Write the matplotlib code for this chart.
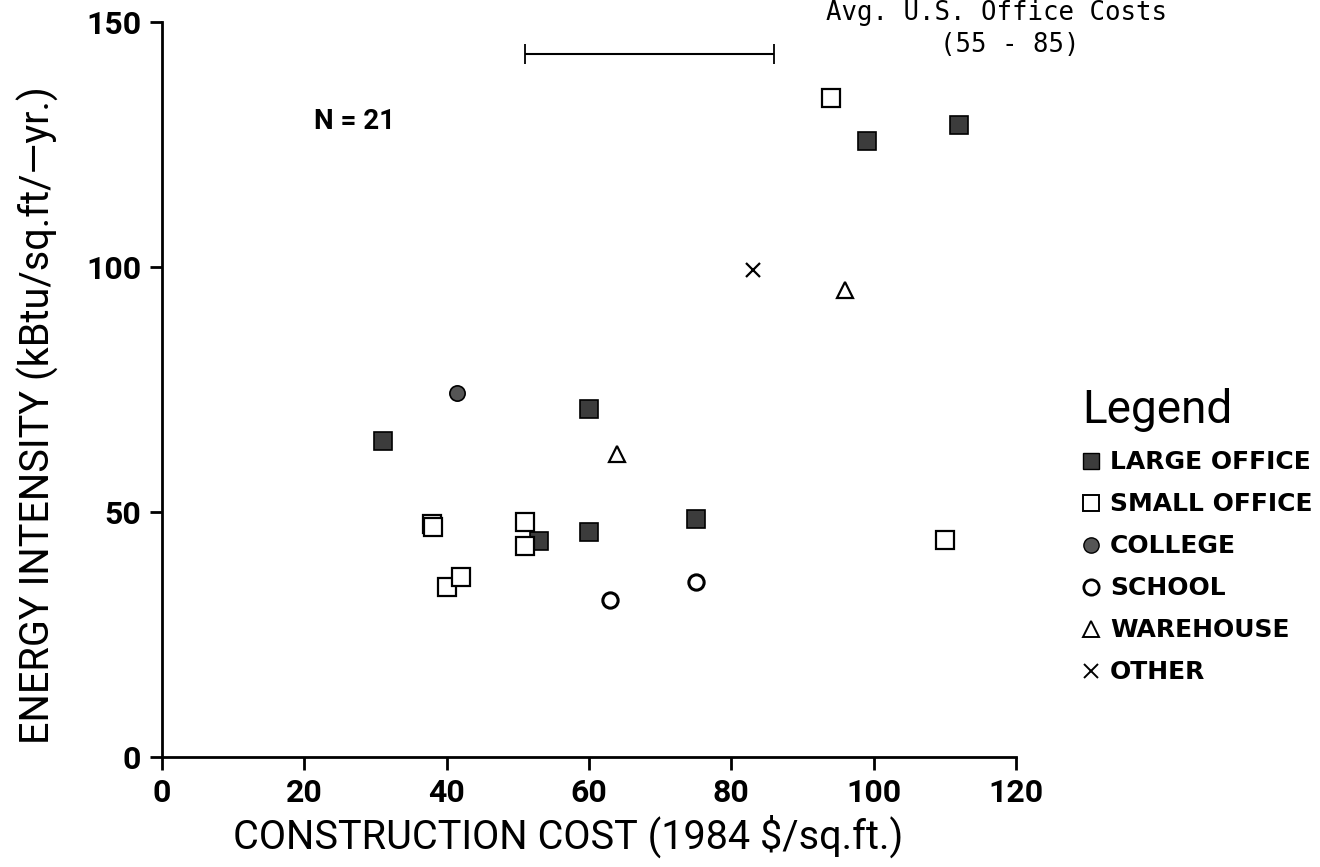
import matplotlib
matplotlib.use("Agg")
import matplotlib.pyplot as plt
from matplotlib.lines import Line2D

# values
large_x = [31, 53, 60, 60, 75, 99, 112]
large_y = [64.5, 44, 46, 71, 48.6, 125.7, 129]
small_x = [38, 38.1, 40, 42, 51, 51, 94, 110]
small_y = [47.6, 47.0, 34.7, 36.7, 48, 43, 134.5, 44.3]
college_x = [41.5]
college_y = [74.3]
school_x = [63, 75]
school_y = [32, 35.7]
warehouse_x = [64, 96]
warehouse_y = [61.8, 95.3]
other_x = [83]
other_y = [99.4]

avg_lo, avg_hi, avg_level = 51, 86, 143.5
x_ticks = [0, 20, 40, 60, 80, 100, 120]
y_ticks = [0, 50, 100, 150]

plt.rcParams['font.family'] = ['Roboto', 'DejaVu Sans']

fig = plt.figure(figsize=(13.2, 8.67), dpi=100)
ax = fig.add_axes([0.1227, 0.1269, 0.6470, 0.8477])

dark = '#3c3c3c'
ms = 12.5
ax.plot(large_x, large_y, 's', ms=ms, mfc=dark, mec='black', mew=1.2, ls='none')
ax.plot(small_x, small_y, 's', ms=ms, mfc='white', mec='black', mew=1.6, ls='none')
ax.plot(college_x, college_y, 'o', ms=11, mfc='#555555', mec='black', mew=1.2, ls='none')
ax.plot(school_x, school_y, 'o', ms=11, mfc='white', mec='black', mew=2.2, ls='none')
ax.plot(warehouse_x, warehouse_y, '^', ms=11, mfc='white', mec='black', mew=1.6, ls='none')
ax.plot(other_x, other_y, 'x', ms=10, mec='black', mew=1.6, ls='none')

# average office cost range bar
ax.errorbar((avg_lo + avg_hi) / 2, avg_level, xerr=(avg_hi - avg_lo) / 2,
            fmt='none', ecolor='black', elinewidth=1.5, capsize=7, capthick=1.3)

ax.set_xlim(0, 120)
ax.set_ylim(0, 150)
ax.set_xticks(x_ticks)
ax.set_yticks(y_ticks)
ax.spines['top'].set_visible(False)
ax.spines['right'].set_visible(False)
ax.spines['left'].set_linewidth(2)
ax.spines['bottom'].set_linewidth(2)
ax.tick_params(direction='out', length=9, width=2, labelsize=23, pad=6)
for lab in ax.get_xticklabels() + ax.get_yticklabels():
    lab.set_fontweight('bold')

# axis titles placed like the original (slightly off-centre)
fig.text(568 / 1320, 1 - 836 / 867, 'CONSTRUCTION COST (1984 $/sq.ft.)',
         fontsize=28.5, ha='center', va='center')
fig.text(38 / 1320, 1 - 415 / 867, 'ENERGY INTENSITY (kBtu/sq.ft/\u2014yr.)',
         fontsize=28.5, ha='center', va='center', rotation=90)

ax.text(0.225, 0.864, 'N = 21', transform=ax.transAxes, fontsize=20,
        fontweight='bold', ha='center', va='center')
fig.text(826 / 1320, 1 - 20 / 867, 'Avg. U.S. Office Costs', fontsize=18.5,
         family='DejaVu Sans Mono', ha='left', va='baseline')
fig.text(1010 / 1320, 1 - 52 / 867, '(55 - 85)', fontsize=18.5,
         family='DejaVu Sans Mono', ha='center', va='baseline')

handles = [
    Line2D([], [], marker='s', ms=11, mfc=dark, mec='black', ls='none'),
    Line2D([], [], marker='s', ms=11, mfc='white', mec='black', mew=1.4, ls='none'),
    Line2D([], [], marker='o', ms=11, mfc='#555555', mec='black', ls='none'),
    Line2D([], [], marker='o', ms=11, mfc='white', mec='black', mew=2, ls='none'),
    Line2D([], [], marker='^', ms=11, mfc='white', mec='black', mew=1.4, ls='none'),
    Line2D([], [], marker='x', ms=10, mec='black', mew=1.4, ls='none'),
]
labels = ['LARGE OFFICE', 'SMALL OFFICE', 'COLLEGE', 'SCHOOL', 'WAREHOUSE', 'OTHER']
leg = fig.legend(handles, labels, loc='upper left', bbox_to_anchor=(0.803, 0.578),
                 frameon=False, title='Legend', title_fontsize=33,
                 prop={'family': 'DejaVu Sans', 'size': 18, 'weight': 'bold'},
                 handlelength=0.7, handletextpad=0.4, labelspacing=0.72,
                 alignment='left')

fig.savefig('out.png', dpi=100)
